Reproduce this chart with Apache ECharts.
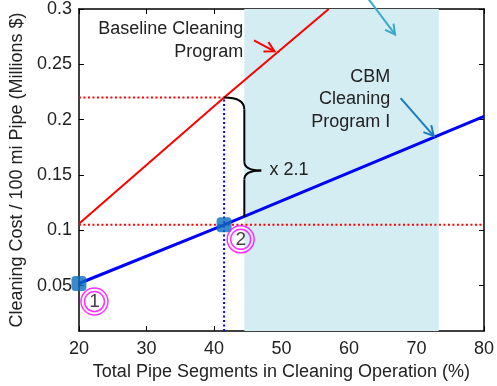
<!DOCTYPE html>
<html><head><meta charset="utf-8">
<script src="https://cdn.jsdelivr.net/npm/echarts@6/dist/echarts.min.js"></script>
<style>html,body{margin:0;padding:0;background:#fff}#c{width:497px;height:386px}</style>
</head><body><div id="c"></div>
<script>
// ---- data ----
const xRange = [20, 80];
const yRange = [0.009, 0.3];
const yTickValues = [0.05, 0.1, 0.15, 0.2, 0.25, 0.3];
const baselineProgram = [[20, 0.106], [41.5, 0.22], [57, 0.30]];
const cbmProgram = [[20, 0.052], [41.5, 0.105], [80, 0.203]];
const cbmMarkers = [[20, 0.052], [41.5, 0.105]];
const shadedRange = [44.5, 73.3];
const refSegment = 41.5;
const refCostHigh = 0.22;
const refCostLow = 0.105;
const circleNotes = [[22.3, 0.0357, '1'], [43.96, 0.0919, '2']];
const ratioText = 'x 2.1';
const baselineText = 'Baseline Cleaning\nProgram';
const cbmText = 'CBM\nCleaning\nProgram I';
const xName = 'Total Pipe Segments in Cleaning Operation (%)';
const yName = 'Cleaning Cost / 100 mi Pipe (Millions $)';
// annotation anchors (data space)
const baselineTextAt = [44.35, 0.2712];
const cbmTextAt = [66.1, 0.2183];
const ratioTextAt = [48.24, 0.1543];
const braceSpec = {top: [refSegment, refCostHigh], xv: 44.5, tip: [47, 0.154], bottom: 0.112};
const arrows = [
  {from: [45.94, 0.2716], to: [48.96, 0.2618], color: '#ff0000'},
  {from: [67.65, 0.2194], to: [72.55, 0.1854], color: '#1a7bbf'},
  {from: [62.4, 0.313], to: [66.83, 0.277], color: '#3ba9c9'}
];

const FONT = 'Liberation Sans, Arial, Helvetica, sans-serif';
const chart = echarts.init(document.getElementById('c'), null, {renderer: 'canvas'});

const axisCommon = {
  axisLine: {lineStyle: {color: '#000', width: 1.5}},
  axisTick: {inside: true, length: 5, lineStyle: {color: '#000', width: 1}},
  splitLine: {show: false}
};

const option = {
  animation: false,
  backgroundColor: '#fff',
  grid: {left: 72, top: 9, right: 9, bottom: 52, containLabel: false},
  xAxis: [
    Object.assign({}, axisCommon, {
      type: 'value', min: xRange[0], max: xRange[1], interval: 10, position: 'bottom',
      name: xName, nameLocation: 'middle', nameGap: 28,
      nameTextStyle: {fontFamily: FONT, fontSize: 18, color: '#222'},
      axisLabel: {fontFamily: FONT, fontSize: 18, color: '#222', margin: 9}
    }),
    Object.assign({}, axisCommon, {
      type: 'value', min: xRange[0], max: xRange[1], interval: 10, position: 'top',
      axisLabel: {show: false}
    })
  ],
  yAxis: [
    Object.assign({}, axisCommon, {
      type: 'value', min: yRange[0], max: yRange[1], position: 'left',
      name: yName, nameLocation: 'middle', nameGap: 43,
      nameTextStyle: {fontFamily: FONT, fontSize: 18, color: '#222'},
      axisTick: {inside: true, length: 5, customValues: yTickValues, lineStyle: {color: '#000', width: 1}},
      axisLabel: {fontFamily: FONT, fontSize: 18, color: '#222', margin: 7, customValues: yTickValues}
    }),
    Object.assign({}, axisCommon, {
      type: 'value', min: yRange[0], max: yRange[1], position: 'right',
      axisTick: {inside: true, length: 5, customValues: yTickValues, lineStyle: {color: '#000', width: 1}},
      axisLabel: {show: false, customValues: yTickValues}
    })
  ],
  series: [
    {
      type: 'line', data: [], z: 1,
      markArea: {silent: true, itemStyle: {color: '#d3edf3'},
        data: [[{xAxis: shadedRange[0]}, {xAxis: shadedRange[1]}]]}
    },
    {type: 'line', data: [[xRange[0], refCostHigh], [refSegment, refCostHigh]], showSymbol: false, z: 3,
      lineStyle: {color: '#ff0000', width: 2, type: [2, 2.5]}},
    {type: 'line', data: [[xRange[0], refCostLow], [xRange[1], refCostLow]], showSymbol: false, z: 3,
      lineStyle: {color: '#ff0000', width: 2, type: [2, 2.5]}},
    {type: 'line', data: [[refSegment, yRange[0]], [refSegment, refCostHigh]], showSymbol: false, z: 3,
      lineStyle: {color: '#0000ff', width: 2, type: [2, 2.5]}},
    {type: 'line', data: baselineProgram, showSymbol: false, z: 4,
      lineStyle: {color: '#ff0000', width: 2}},
    {type: 'line', data: cbmProgram, showSymbol: false, z: 4,
      lineStyle: {color: '#0000ff', width: 3}},
    {type: 'scatter', data: cbmMarkers, symbol: 'roundRect', symbolSize: 15, z: 5,
      itemStyle: {color: '#0a6ebd'}},
    {type: 'scatter', data: circleNotes.map(d => [d[0], d[1]]), symbol: 'circle', symbolSize: 27, z: 5,
      itemStyle: {color: 'rgba(0,0,0,0)', borderColor: '#ff00ff', borderWidth: 1.5}},
    {type: 'scatter', data: circleNotes, symbol: 'circle', symbolSize: 20, z: 6,
      itemStyle: {color: 'rgba(0,0,0,0)', borderColor: '#ff00ff', borderWidth: 1.5},
      label: {show: true, position: 'inside', formatter: p => p.value[2],
        fontFamily: FONT, fontSize: 19, color: '#111'}}
  ]
};
chart.setOption(option);

const px = p => chart.convertToPixel({xAxisIndex: 0, yAxisIndex: 0}, p);

function arrowEls(a) {
  const p0 = px(a.from), p1 = px(a.to);
  const ang = Math.atan2(p1[1] - p0[1], p1[0] - p0[0]);
  const L = 11, h = 0.5;
  const l1 = [p1[0] - L * Math.cos(ang - h), p1[1] - L * Math.sin(ang - h)];
  const l2 = [p1[0] - L * Math.cos(ang + h), p1[1] - L * Math.sin(ang + h)];
  return [
    {type: 'line', z: 100, shape: {x1: p0[0], y1: p0[1], x2: p1[0], y2: p1[1]},
      style: {stroke: a.color, lineWidth: 2}},
    {type: 'polyline', z: 100, shape: {points: [l1, p1, l2]},
      style: {stroke: a.color, lineWidth: 2, fill: null}}
  ];
}

const bt = px(braceSpec.top);
const xv = px([braceSpec.xv, 0.1])[0];
const tip = px(braceSpec.tip);
const yb = px([braceSpec.xv, braceSpec.bottom])[1];
const braceStyle = {stroke: '#000', lineWidth: 2, fill: null};
const braceEls = [
  {type: 'bezierCurve', z: 100, style: braceStyle,
    shape: {x1: bt[0], y1: bt[1], cpx1: xv, cpy1: bt[1], x2: xv, y2: bt[1] + 12}},
  {type: 'line', z: 100, style: braceStyle,
    shape: {x1: xv, y1: bt[1] + 12, x2: xv, y2: tip[1] - 9}},
  {type: 'bezierCurve', z: 100, style: braceStyle,
    shape: {x1: xv, y1: tip[1] - 9, cpx1: xv, cpy1: tip[1], x2: tip[0], y2: tip[1]}},
  {type: 'bezierCurve', z: 100, style: braceStyle,
    shape: {x1: tip[0], y1: tip[1], cpx1: xv, cpy1: tip[1], x2: xv, y2: tip[1] + 9}},
  {type: 'line', z: 100, style: braceStyle,
    shape: {x1: xv, y1: tip[1] + 9, x2: xv, y2: yb}}
];

const tb = px(baselineTextAt), tc = px(cbmTextAt), tr = px(ratioTextAt);
const textEl = (t, p, align, lh) => ({type: 'text', z: 100,
  style: {text: t, x: p[0], y: p[1], align: align, verticalAlign: 'middle',
    fontFamily: FONT, fontSize: 18, lineHeight: lh, fill: '#222'}});

let els = braceEls.concat([
  textEl(baselineText, tb, 'right', 23),
  textEl(cbmText, tc, 'right', 22.5),
  textEl(ratioText, tr, 'left', 20)
]);
arrows.forEach(a => { els = els.concat(arrowEls(a)); });
chart.setOption({graphic: {elements: els}});
</script></body></html>
